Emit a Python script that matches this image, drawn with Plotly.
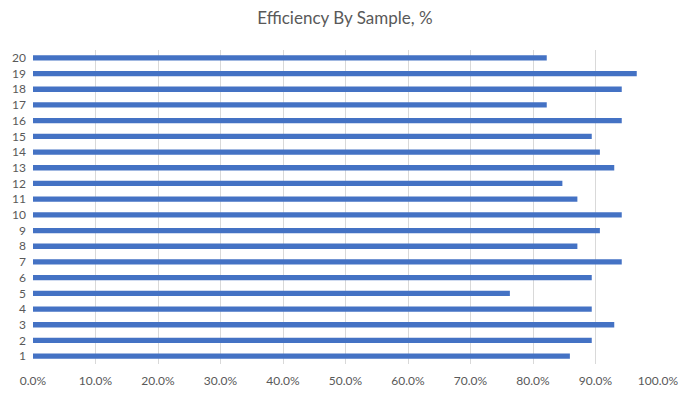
import plotly.graph_objects as go

samples = [str(i) for i in range(1, 21)]
efficiency = [0.859, 0.894, 0.930, 0.894, 0.763, 0.894, 0.942, 0.871, 0.907, 0.942,
              0.871, 0.847, 0.930, 0.907, 0.894, 0.942, 0.822, 0.942, 0.966, 0.822]
tick_vals = [i / 10 for i in range(11)]
tick_text = [f"{i * 10:.1f}%" for i in range(11)]

fig = go.Figure(go.Bar(
    x=efficiency, y=samples, orientation="h",
    marker=dict(color="#4472C4", line=dict(width=0)),
    width=0.34,
))

# page body has an 8px default margin, so the figure is sized to fit
fig.update_layout(
    width=682, height=387,
    margin=dict(l=25, r=32, t=42, b=31, autoexpand=False),
    paper_bgcolor="white", plot_bgcolor="white",
    title=dict(text="Efficiency By Sample, %", x=0.494, xanchor="center", y=0.974, yanchor="middle",
               font=dict(family="Lato, Liberation Sans, sans-serif", size=17, color="#595959")),
    font=dict(family="Lato, Liberation Sans, sans-serif", size=12, color="#595959"),
    showlegend=False,
    bargap=0.66,
)
fig.update_xaxes(range=[0, 1], tickvals=tick_vals, ticktext=tick_text, automargin=False,
                 showgrid=True, gridcolor="#D9D9D9", gridwidth=1,
                 zeroline=False, showline=False, ticks="", ticklabelstandoff=8)
fig.update_yaxes(type="category", categoryorder="array", categoryarray=samples, automargin=False,
                 showgrid=False, zeroline=False, showline=False, ticks="", ticklabelstandoff=6)

fig.write_html("out.html")
